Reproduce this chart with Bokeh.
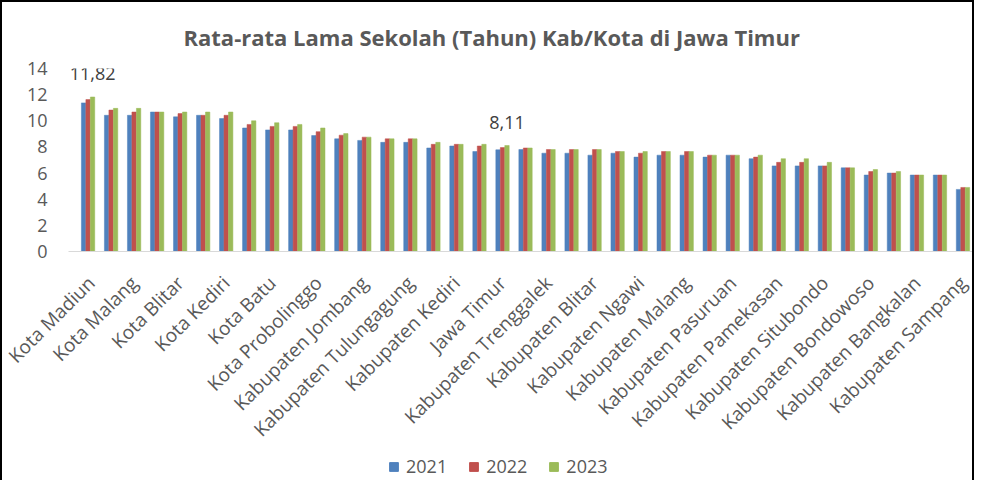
from math import pi
from bokeh.plotting import figure
from bokeh.layouts import column
from bokeh.models import Range1d, FixedTicker, Legend, LegendItem, ColumnDataSource, LabelSet
from bokeh.embed import file_html
from bokeh.resources import INLINE
from bokeh.transform import dodge
from bokeh.core.properties import value

regions = [
    "Kota Madiun", "Kota Surabaya", "Kota Malang", "Kota Mojokerto", "Kota Blitar",
    "Kabupaten Sidoarjo", "Kota Kediri", "Kota Pasuruan", "Kota Batu", "Kabupaten Gresik",
    "Kota Probolinggo", "Kabupaten Mojokerto", "Kabupaten Jombang", "Kabupaten Madiun",
    "Kabupaten Tulungagung", "Kabupaten Magetan", "Kabupaten Kediri", "Kabupaten Lamongan",
    "Jawa Timur", "Kabupaten Nganjuk", "Kabupaten Trenggalek", "Kabupaten Ponorogo",
    "Kabupaten Blitar", "Kabupaten Bojonegoro", "Kabupaten Ngawi", "Kabupaten Pacitan",
    "Kabupaten Malang", "Kabupaten Banyuwangi", "Kabupaten Pasuruan", "Kabupaten Tuban",
    "Kabupaten Pamekasan", "Kabupaten Jember", "Kabupaten Situbondo", "Kabupaten Lumajang",
    "Kabupaten Bondowoso", "Kabupaten Probolinggo", "Kabupaten Bangkalan", "Kabupaten Sumenep",
    "Kabupaten Sampang",
]
rls_2021 = [11.37, 10.42, 10.42, 10.67, 10.30, 10.42, 10.17, 9.45, 9.30, 9.30,
            8.87, 8.62, 8.50, 8.35, 8.35, 7.92, 8.07, 7.65, 7.78, 7.80,
            7.52, 7.52, 7.37, 7.52, 7.22, 7.37, 7.37, 7.22, 7.37, 7.10,
            6.55, 6.55, 6.55, 6.40, 5.85, 6.00, 5.85, 5.85, 4.75]
rls_2022 = [11.62, 10.82, 10.67, 10.67, 10.55, 10.42, 10.42, 9.72, 9.57, 9.57,
            9.17, 8.90, 8.75, 8.62, 8.62, 8.20, 8.20, 8.07, 7.95, 7.92,
            7.80, 7.80, 7.80, 7.65, 7.52, 7.65, 7.65, 7.37, 7.37, 7.22,
            6.82, 6.82, 6.55, 6.40, 6.12, 6.00, 5.85, 5.85, 4.90]
rls_2023 = [11.82, 10.95, 10.95, 10.67, 10.67, 10.67, 10.67, 10.00, 9.85, 9.72,
            9.45, 9.02, 8.75, 8.62, 8.62, 8.35, 8.20, 8.20, 8.11, 7.92,
            7.80, 7.80, 7.80, 7.65, 7.65, 7.65, 7.65, 7.37, 7.37, 7.37,
            7.10, 7.10, 6.82, 6.40, 6.27, 6.12, 5.85, 5.85, 4.90]
years = ["2021", "2022", "2023"]
y_ticks = [0, 2, 4, 6, 8, 10, 12, 14]
label_idx = [0, 18]
label_text = ["11,82", "8,11"]

colors = ["#4F81BD", "#C0504D", "#9BBB59"]
FONT = "Open Sans"
GRAY = "#595959"

idx = list(range(len(regions)))
src = ColumnDataSource(dict(x=idx, y2021=rls_2021, y2022=rls_2022, y2023=rls_2023))

p = figure(width=974, height=452, x_range=Range1d(-0.85, len(regions) - 0.5),
           y_range=Range1d(0, 14), output_backend="svg", toolbar_location=None,
           min_border_left=66, min_border_right=2, min_border_top=65,
           min_border_bottom=200)
p.styles = {"border-left": "2px solid black", "border-top": "2px solid black",
            "border-right": "2px solid black"}

bw = 0.19
offs = [-0.195, 0.0, 0.195]
cols = ["y2021", "y2022", "y2023"]
for c, o, col in zip(cols, offs, colors):
    p.vbar(x=dodge("x", o), top=c, width=bw, source=src, fill_color=col,
           line_color=col, line_width=0.5)

lab_src = ColumnDataSource(dict(x=label_idx, y=[rls_2023[i] + 1.78 for i in label_idx],
                                t=label_text))
labels = LabelSet(x=dodge("x", offs[2]), y="y", text="t", source=lab_src,
                  text_align="center", text_baseline="middle", text_font=value(FONT),
                  text_font_size=value("18px"), text_color=value("#404040"))
p.add_layout(labels)

p.xgrid.visible = False
p.ygrid.visible = False
p.outline_line_color = None
p.background_fill_color = "white"
p.border_fill_color = "white"

ya = p.yaxis[0]
ya.ticker = FixedTicker(ticks=y_ticks)
ya.axis_line_color = None
ya.major_tick_line_color = None
ya.minor_tick_line_color = None
ya.major_label_standoff = 15
ya.major_label_text_font = FONT
ya.major_label_text_font_size = "18px"
ya.major_label_text_color = GRAY

xa = p.xaxis[0]
even = list(range(0, len(regions), 2))
xa.ticker = FixedTicker(ticks=even)
xa.major_label_overrides = {i: regions[i] for i in even}
xa.major_label_orientation = pi / 4
xa.axis_line_color = "#D9D9D9"
xa.major_tick_line_color = None
xa.minor_tick_line_color = None
xa.major_label_standoff = 22
xa.major_label_text_font = FONT
xa.major_label_text_font_size = "19px"
xa.major_label_text_color = GRAY

p.title.text = "Rata-rata Lama Sekolah (Tahun) Kab/Kota di Jawa Timur"
p.title.align = "left"
p.title.text_font = FONT
p.title.text_font_size = "22px"
p.title.text_font_style = "bold"
p.title.text_color = GRAY
p.title.offset = 115
p.title.standoff = 34

# legend strip below the chart (series drawn out of view; only the legend shows)
leg = figure(width=974, height=28, x_range=Range1d(-100, -90), y_range=Range1d(0, 1),
             output_backend="svg", toolbar_location=None, min_border=0)
leg.styles = {"border-left": "2px solid black", "border-right": "2px solid black"}
leg.axis.visible = False
leg.xgrid.visible = False
leg.ygrid.visible = False
leg.outline_line_color = None
leg.background_fill_color = "white"
leg.border_fill_color = "white"
leg_rends = []
for c, col in zip(cols, colors):
    r = leg.vbar(x="x", top=c, width=bw, source=src, fill_color=col, line_color=col)
    leg_rends.append(r)

legend = Legend(items=[LegendItem(label=y, renderers=[r]) for y, r in zip(years, leg_rends)],
                location=(320, 2), orientation="horizontal", glyph_width=11,
                glyph_height=11, label_standoff=7, spacing=21, padding=0, margin=0,
                label_height=14, border_line_color=None, background_fill_alpha=0,
                label_text_font=FONT, label_text_font_size="18px",
                label_text_color=GRAY)
leg.add_layout(legend)

open("out.html", "w").write(file_html(column(p, leg), INLINE))
